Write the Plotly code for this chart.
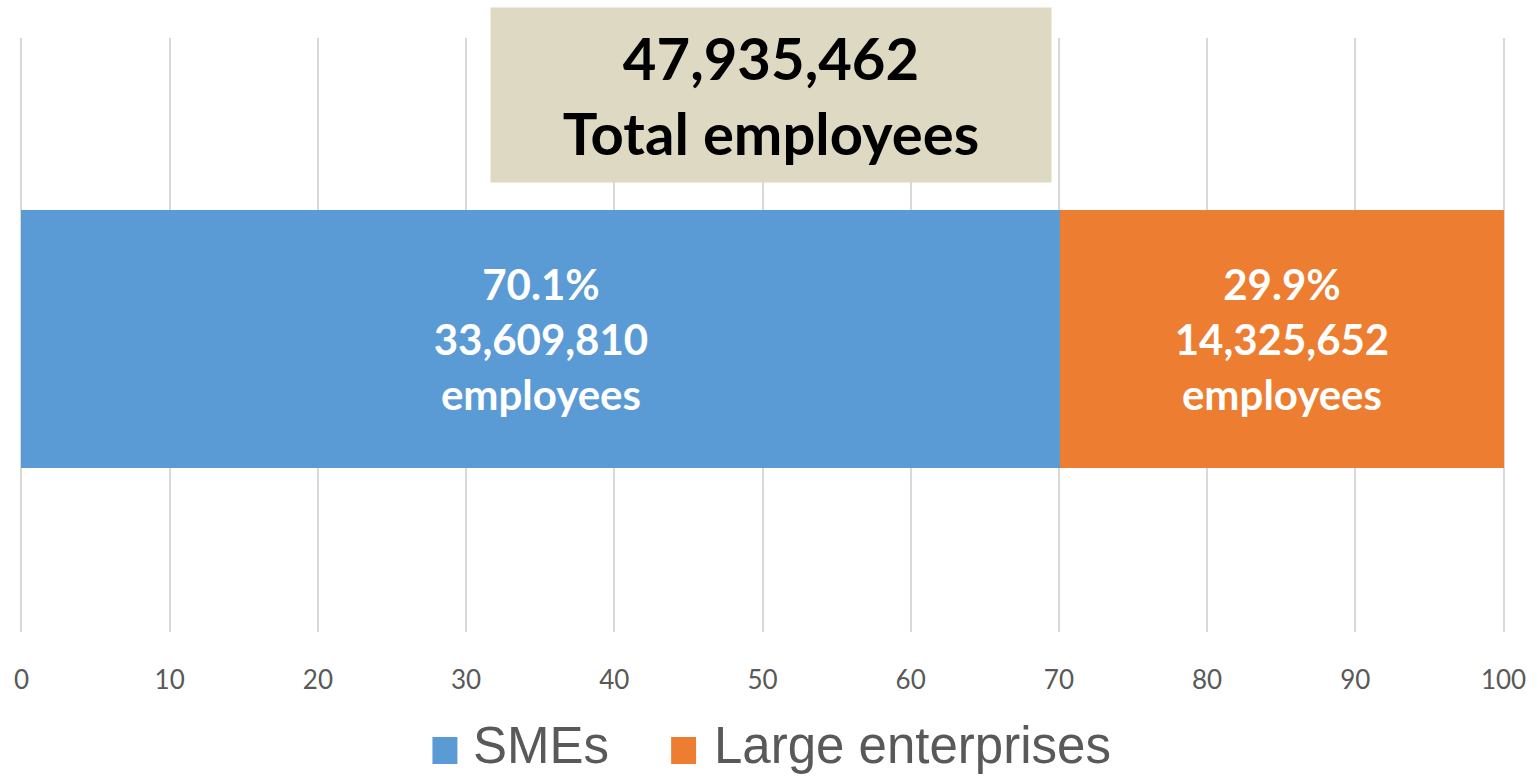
import plotly.graph_objects as go

# Employment split between company size classes
segments = ["SMEs", "Large enterprises"]
share_pct = [70.1, 29.9]
employees = [33609810, 14325652]
total_employees = 47935462
colors = ["#5B9BD5", "#ED7D31"]
x_ticks = [0, 10, 20, 30, 40, 50, 60, 70, 80, 90, 100]

W, H = 1538, 777
L, R, T, B = 20, 31, 38, 145
PW, PH = W - L - R, H - T - B


def px_x(px):
    return (px - L) / PW


def px_y(py):
    return (H - B - py) / PH


fig = go.Figure()
for name, pct, emp, col in zip(segments, share_pct, employees, colors):
    fig.add_trace(go.Bar(
        y=["Employees"], x=[pct], name=name, orientation="h",
        marker=dict(color=col, line=dict(width=0)),
        text=[f"{pct:.1f}%<br>{emp:,}<br>employees"],
        textposition="inside", insidetextanchor="middle",
        textfont=dict(family="Lato", size=42, color="white", weight="bold"),
        width=0.434, showlegend=False,
    ))

# Headline box with the total
fig.add_annotation(
    xref="paper", yref="paper", x=px_x(772), y=px_y(95),
    xanchor="center", yanchor="middle",
    text=f"{total_employees:,}<br>Total employees",
    font=dict(family="Lato", size=58, color="black", weight="bold"),
    bgcolor="#DDD9C3", width=560, height=174, borderpad=0, showarrow=False,
)

# Legend drawn as swatches + labels
legend_items = [(433, 473), (672, 714)]
for (sx, tx), name, col in zip(legend_items, segments, colors):
    fig.add_shape(type="rect", xref="paper", yref="paper",
                  x0=px_x(sx), x1=px_x(sx + 25), y0=px_y(764), y1=px_y(737),
                  fillcolor=col, line=dict(width=0))
    fig.add_annotation(xref="paper", yref="paper", x=px_x(tx), y=px_y(746),
                       xanchor="left", yanchor="middle", text=name,
                       font=dict(family="Liberation Sans", size=51, color="#595959"),
                       borderpad=0, showarrow=False)

fig.update_layout(
    barmode="stack", width=W, height=H,
    margin=dict(l=L, r=R, t=T, b=B, pad=0),
    plot_bgcolor="white", paper_bgcolor="white",
    xaxis=dict(range=[-0.1, 100.1], tickvals=x_ticks, showgrid=True,
               gridcolor="#D9D9D9", gridwidth=2, zeroline=False,
               showline=False, ticks="", ticklabelstandoff=30,
               tickfont=dict(family="Lato", size=26, color="#595959")),
    yaxis=dict(range=[-0.4933, 0.5067], showticklabels=False, showgrid=False,
               zeroline=False, showline=False, ticks=""),
)

fig.write_html("out.html")
